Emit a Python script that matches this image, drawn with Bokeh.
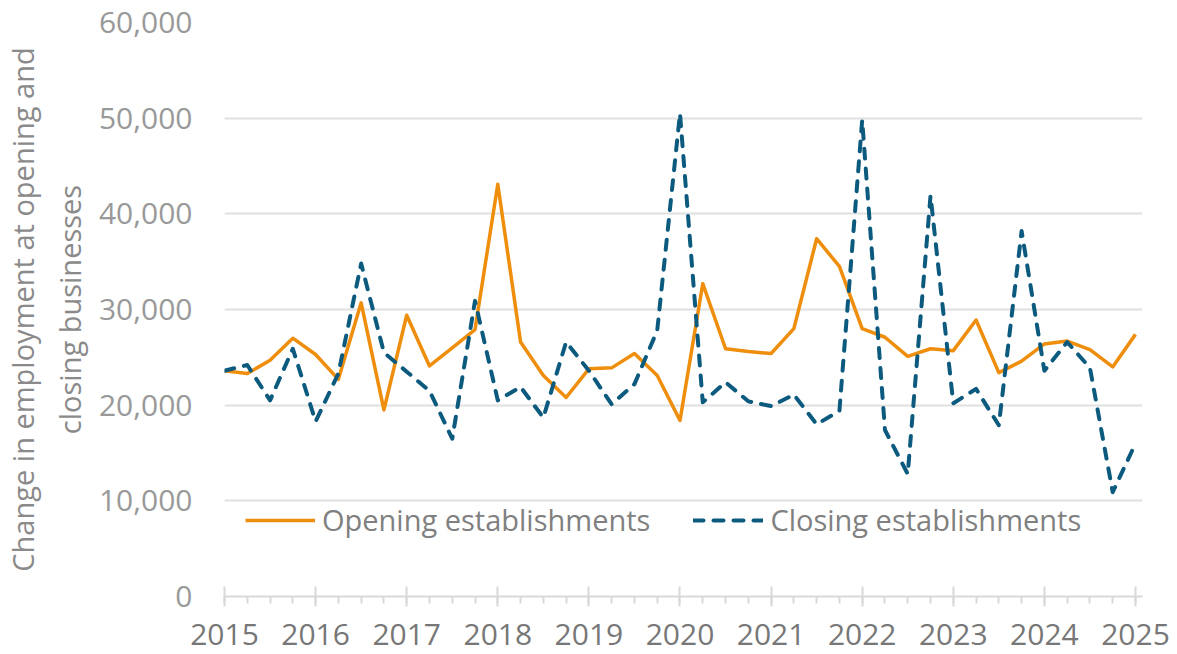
from bokeh.plotting import figure
from bokeh.models import Range1d, FixedTicker, NumeralTickFormatter, ColumnDataSource
from bokeh.embed import file_html
from bokeh.resources import INLINE

# ---- data (quarterly, 2015 Q1 .. 2025 Q1) ----
years = list(range(2015, 2026))
quarters = [2015 + i / 4 for i in range(41)]
opening = [23600, 23300, 24700, 27000, 25300, 22700, 30700, 19500, 29400, 24100,
           26000, 27900, 43100, 26600, 23100, 20800, 23800, 23900, 25400, 23100,
           18400, 32700, 25900, 25600, 25400, 28000, 37400, 34500, 28000, 27100,
           25100, 25900, 25700, 28900, 23400, 24600, 26400, 26700, 25800, 24000,
           27400]
closing = [23600, 24200, 20500, 25900, 18300, 23300, 34800, 25500, 23500, 21500,
           16500, 30900, 20500, 21900, 18700, 26600, 23600, 20100, 22200, 27800,
           50500, 20300, 22400, 20400, 19900, 21100, 18000, 19400, 49800, 17400,
           12800, 41900, 20200, 21700, 17900, 38200, 23600, 26600, 23900, 10900,
           16000]
y_ticks = [0, 10000, 20000, 30000, 40000, 50000, 60000]
series_names = ["Opening establishments", "Closing establishments"]
y_title = "Change in employment at opening and\nclosing businesses"

FONT = "Open Sans"
ORANGE = "#EF8E0C"
BLUE = "#0D5A7F"

src = ColumnDataSource(dict(x=quarters, opening=opening, closing=closing))

p = figure(frame_width=918, frame_height=574,
           x_range=Range1d(2015, 2025.077), y_range=Range1d(0, 60000),
           output_backend="svg", toolbar_location=None,
           min_border_left=224, min_border_right=35,
           min_border_top=22, min_border_bottom=58)
p.outline_line_color = None
p.background_fill_color = "white"
p.border_fill_color = "white"

p.line("x", "opening", source=src, color=ORANGE, line_width=3.5,
       line_join="round", legend_label=series_names[0])
p.line("x", "closing", source=src, color=BLUE, line_width=4,
       line_dash="10 10", line_cap="round", line_join="round",
       legend_label=series_names[1])

# x axis
xa = p.xaxis[0]
xa.ticker = FixedTicker(ticks=years, minor_ticks=quarters)
xa.axis_line_color = "#d9d9d9"
xa.axis_line_width = 2
xa.major_tick_line_color = "#d9d9d9"
xa.major_tick_line_width = 2
xa.major_tick_in = 10
xa.major_tick_out = 10
xa.minor_tick_line_color = "#d9d9d9"
xa.minor_tick_line_width = 2
xa.minor_tick_in = 0
xa.minor_tick_out = 7
xa.major_label_text_font = FONT
xa.major_label_text_font_size = "30px"
xa.major_label_text_color = "#777777"
xa.major_label_standoff = 17

# y axis
ya = p.yaxis[0]
ya.ticker = FixedTicker(ticks=y_ticks)
ya.formatter = NumeralTickFormatter(format="0,0")
ya.axis_line_color = None
ya.major_tick_line_color = None
ya.minor_tick_line_color = None
ya.major_label_text_font = FONT
ya.major_label_text_font_size = "30px"
ya.major_label_text_color = "#999999"
ya.major_label_standoff = 26
ya.axis_label = y_title
ya.axis_label_text_font = FONT
ya.axis_label_text_font_size = "29px"
ya.axis_label_text_font_style = "normal"
ya.axis_label_text_color = "#8a8a8a"
ya.axis_label_standoff = 7

# grid
p.xgrid.grid_line_color = None
p.ygrid.ticker = FixedTicker(ticks=y_ticks[1:])
p.ygrid.grid_line_color = "#e0e0e0"
p.ygrid.grid_line_width = 2

# legend
lg = p.legend[0]
lg.orientation = "horizontal"
lg.location = (21, 57)
lg.padding = 0
lg.margin = 0
lg.spacing = 43
lg.glyph_width = 70
lg.glyph_height = 30
lg.label_height = 30
lg.label_standoff = 7
lg.label_text_font = FONT
lg.label_text_font_size = "29px"
lg.label_text_color = "#808080"
lg.border_line_color = None
lg.background_fill_alpha = 0

open("out.html", "w").write(file_html(p, INLINE))
